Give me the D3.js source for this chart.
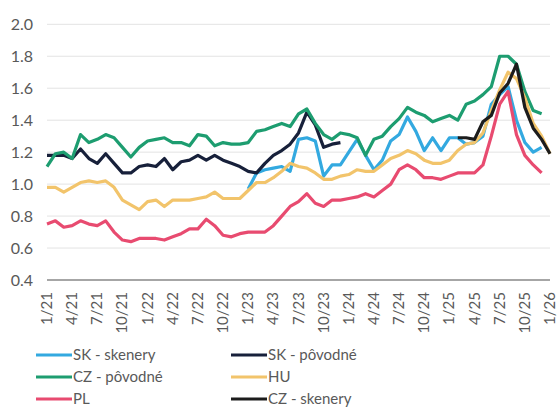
<!DOCTYPE html>
<html>
<head>
<meta charset="utf-8">
<script src="https://cdn.jsdelivr.net/npm/d3@7"></script>
<style>
  body { margin: 0; background: #fff; }
  text { font-family: Lato, "Liberation Sans", sans-serif; fill: #595959; }
</style>
</head>
<body>
<svg id="chart" width="557" height="407"></svg>
<script>
// mesiace 1/21 .. 1/26
const months = d3.range(61).map(i => `${(i % 12) + 1}/${21 + Math.floor(i / 12)}`);
const tickLabels = ["1/21", "4/21", "7/21", "10/21", "1/22", "4/22", "7/22", "10/22", "1/23", "4/23", "7/23",
   "10/23", "1/24", "4/24", "7/24", "10/24", "1/25", "4/25", "7/25", "10/25", "1/26"];
const yTicks = [0.4, 0.6, 0.8, 1.0, 1.2, 1.4, 1.6, 1.8, 2.0];

const skSkenery = [null, null, null, null, null, null, null, null, null, null, null, null,
   null, null, null, null, null, null, null, null, null, null, null, null,
   0.97, 1.07, 1.09, 1.10, 1.11, 1.08, 1.28, 1.29, 1.27, 1.05, 1.12, 1.12,
   1.20, 1.28, 1.18, 1.09, 1.15, 1.27, 1.31, 1.42, 1.33, 1.21, 1.29, 1.21,
   1.29, 1.29, 1.25, 1.26, 1.30, 1.50, 1.56, 1.61, 1.40, 1.26, 1.20, 1.23, null];

const skPovodne = [1.18, 1.18, 1.18, 1.16, 1.22, 1.16, 1.13, 1.19, 1.13, 1.07, 1.07, 1.11,
   1.12, 1.11, 1.16, 1.09, 1.14, 1.15, 1.18, 1.15, 1.18, 1.15, 1.13, 1.11,
   1.08, 1.07, 1.13, 1.18, 1.21, 1.25, 1.32, 1.45, 1.37, 1.23, 1.25, 1.26,
   null, null, null, null, null, null, null, null, null, null, null, null,
   null, null, null, null, null, null, null, null, null, null, null, null, null];

const czPovodne = [1.11, 1.19, 1.20, 1.16, 1.31, 1.26, 1.28, 1.31, 1.29, 1.23, 1.17, 1.23,
   1.27, 1.28, 1.29, 1.26, 1.26, 1.24, 1.31, 1.30, 1.24, 1.26, 1.25, 1.25,
   1.26, 1.33, 1.34, 1.36, 1.38, 1.36, 1.44, 1.47, 1.38, 1.31, 1.28, 1.32,
   1.31, 1.29, 1.18, 1.28, 1.30, 1.36, 1.41, 1.48, 1.45, 1.43, 1.39, 1.41,
   1.43, 1.40, 1.50, 1.52, 1.56, 1.61, 1.80, 1.80, 1.75, 1.58, 1.46, 1.44, null];

const hu = [0.98, 0.98, 0.95, 0.98, 1.01, 1.02, 1.01, 1.02, 0.98, 0.90, 0.87, 0.84,
   0.89, 0.90, 0.86, 0.90, 0.90, 0.90, 0.91, 0.92, 0.95, 0.91, 0.91, 0.91,
   0.96, 1.01, 1.01, 1.04, 1.08, 1.13, 1.11, 1.10, 1.07, 1.03, 1.03, 1.05,
   1.06, 1.09, 1.08, 1.08, 1.12, 1.16, 1.18, 1.21, 1.19, 1.15, 1.13, 1.13,
   1.15, 1.21, 1.25, 1.26, 1.32, 1.46, 1.59, 1.70, 1.66, 1.54, 1.38, 1.30, 1.19];

const pl = [0.75, 0.77, 0.73, 0.74, 0.77, 0.75, 0.74, 0.77, 0.70, 0.65, 0.64, 0.66,
   0.66, 0.66, 0.65, 0.67, 0.69, 0.72, 0.72, 0.78, 0.74, 0.68, 0.67, 0.69,
   0.70, 0.70, 0.70, 0.74, 0.80, 0.86, 0.89, 0.94, 0.88, 0.86, 0.90, 0.90,
   0.91, 0.92, 0.94, 0.92, 0.96, 1.00, 1.09, 1.12, 1.09, 1.04, 1.04, 1.03,
   1.05, 1.07, 1.07, 1.07, 1.12, 1.30, 1.50, 1.58, 1.31, 1.18, 1.12, 1.07, null];

const czSkenery = [null, null, null, null, null, null, null, null, null, null, null, null,
   null, null, null, null, null, null, null, null, null, null, null, null,
   null, null, null, null, null, null, null, null, null, null, null, null,
   null, null, null, null, null, null, null, null, null, null, null, null,
   null, 1.29, 1.29, 1.28, 1.39, 1.43, 1.57, 1.63, 1.75, 1.48, 1.35, 1.28, 1.19];

const series = [
   { name: "SK - skenery", values: skSkenery, color: "#33a9e0" },
   { name: "SK - pôvodné", values: skPovodne, color: "#17203a" },
   { name: "CZ - pôvodné", values: czPovodne, color: "#1d9d70" },
   { name: "HU", values: hu, color: "#f2c46b" },
   { name: "PL", values: pl, color: "#e84b70" },
   { name: "CZ - skenery", values: czSkenery, color: "#1c1c1c" }
];

const svg = d3.select("#chart");
const x = d3.scalePoint().domain(months).range([47, 550]);
const y = d3.scaleLinear().domain([0.4, 2.0]).range([280, 24.3]);

// mriežka
svg.append("g")
   .selectAll("line")
   .data(yTicks.filter(t => t > 0.4))
   .join("line")
   .attr("x1", 47).attr("x2", 550)
   .attr("y1", d => y(d)).attr("y2", d => y(d))
   .attr("stroke", "#e3e3e3").attr("stroke-width", 1);

// os y
const yAxis = svg.append("g")
   .attr("transform", "translate(33,0)")
   .call(d3.axisLeft(y).tickValues(yTicks).tickFormat(d3.format(".1f")).tickSize(0).tickPadding(0));
yAxis.select(".domain").remove();
yAxis.selectAll("text").style("font-size", "16px").attr("fill", "#595959");

// os x
svg.append("line")
   .attr("x1", 47).attr("x2", 550)
   .attr("y1", y(0.4)).attr("y2", y(0.4))
   .attr("stroke", "#a6a6a6").attr("stroke-width", 2);

svg.append("g")
   .selectAll("text")
   .data(tickLabels)
   .join("text")
   .attr("transform", d => `translate(${x(d) + 5},292) rotate(-90)`)
   .attr("text-anchor", "end")
   .style("font-size", "15px")
   .text(d => d);

// ciary
const line = d3.line()
   .defined(d => d[1] != null)
   .x(d => x(d[0]))
   .y(d => y(d[1]));

series.forEach(s => {
   svg.append("path")
      .datum(months.map((m, i) => [m, s.values[i]]))
      .attr("fill", "none")
      .attr("stroke", s.color)
      .attr("stroke-width", 3.2)
      .attr("stroke-linejoin", "round")
      .attr("d", line);
});

// legenda
const legend = svg.append("g");
series.forEach((s, i) => {
   const col = i % 2, row = Math.floor(i / 2);
   const lx = col === 0 ? 36 : 231;
   const ly = 355 + row * 22;
   legend.append("line")
      .attr("x1", lx).attr("x2", lx + 36)
      .attr("y1", ly).attr("y2", ly)
      .attr("stroke", s.color).attr("stroke-width", 3.2);
   legend.append("text")
      .attr("x", lx + 37).attr("y", ly)
      .attr("dy", "0.35em")
      .style("font-size", "15px")
      .text(s.name);
});
</script>
</body>
</html>
